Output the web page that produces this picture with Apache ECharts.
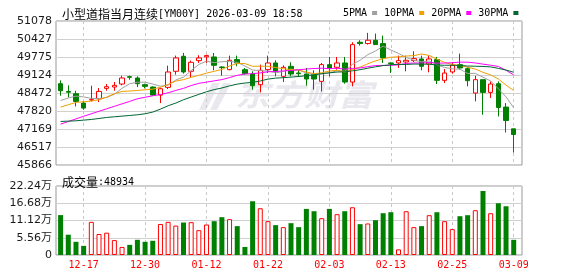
<!DOCTYPE html>
<html><head><meta charset="utf-8">
<script src="https://cdn.jsdelivr.net/npm/echarts@6/dist/echarts.min.js"></script>
<style>html,body{margin:0;padding:0;background:#fff}#c{width:578px;height:276px}</style>
</head><body><div id="c"></div>
<script>
const titleName = '小型道指当月连续';
const titleCode = '[YM00Y] 2026-03-09 18:58';
const volTitle = '成交量';
const lastVolume = 48934;
const dates = ['12-12','12-15','12-16','12-17','12-18','12-19','12-22','12-23','12-24','12-26',
  '12-29','12-30','12-31','01-02','01-05','01-06','01-07','01-08','01-09','01-12',
  '01-13','01-14','01-15','01-16','01-19','01-20','01-21','01-22','01-23','01-26',
  '01-27','01-28','01-29','01-30','02-02','02-03','02-04','02-05','02-06','02-09',
  '02-10','02-11','02-12','02-13','02-16','02-17','02-18','02-19','02-20','02-23',
  '02-24','02-25','02-26','02-27','03-02','03-03','03-04','03-05','03-06','03-09'];
const tickDates = ['12-17','12-30','01-12','01-22','02-03','02-13','02-25','03-09'];
const openP = [48809,48530,48446,48107,48220,48264,48640,48688,48797,49063,
  49015,48773,48688,48397,48676,49257,49801,49257,49644,49780,
  49777,49414,49317,49680,49317,49160,48773,49317,49559,49075,
  49438,49196,49160,49136,48894,49498,49402,49559,48869,50309,
  50261,50382,50261,49559,49559,49595,49644,49704,49523,49680,
  48930,49233,49498,49353,48470,48954,48494,48809,47962,47175];
const closeP = [48555,48500,48167,47926,48228,48530,48700,48748,49015,49040,
  48809,48712,48397,48627,49233,49741,49233,49583,49741,49826,
  49474,49390,49656,49559,49172,48736,49293,49559,49257,49402,
  49160,49172,48978,48978,49499,49378,49559,48869,50225,50261,
  50382,50225,49741,49535,49644,49656,49716,49438,49704,48930,
  49196,49474,49378,48918,48954,48494,48797,47950,47478,46970];
const lowP = [48373,48313,47986,47865,48168,48143,48555,48555,48748,48954,
  48688,48640,48373,48107,48615,49136,49172,49051,49559,49559,
  49293,49099,49293,49438,49136,48591,48494,49196,49075,48869,
  49075,49051,48736,48591,48531,49075,49317,48809,48712,50188,
  50225,50225,49559,49196,49378,49257,49595,49293,49220,48797,
  48833,49172,49317,48712,48167,47684,48289,47623,47042,46316];
const highP = [48930,48748,48555,48168,48736,48651,48797,48870,49099,49099,
  49075,48809,48712,48664,49462,49826,49922,49644,49838,49862,
  49922,49438,49825,49825,49378,49257,49498,49825,49656,49474,
  49583,49317,49378,49293,49559,49777,49777,49777,50309,50382,
  50648,50624,50551,49583,49825,49825,49982,49825,49825,49777,
  49341,49583,49898,49402,49099,48954,48894,48894,48107,47175];
const volume = [128600,65400,42500,29400,106800,67600,72000,48000,26000,32700,
  49000,42500,45800,100000,106800,94800,104600,105800,80000,98300,
  109000,121900,115500,93000,25700,173200,150700,109000,96200,89800,
  102600,89800,148600,141100,118700,148600,131500,141100,153900,99400,
  101600,112200,134700,137900,18200,141100,89800,93000,128300,137900,
  109000,83400,125000,128300,144300,206300,134700,166800,157100,48934];
const ma5 = [48200,48290,48360,48330,48275,48270,48310,48426,48644,48807,
  48862,48865,48795,48717,48756,48942,49046,49283,49506,49625,
  49571,49603,49617,49581,49450,49303,49283,49264,49203,49249,
  49334,49310,49194,49138,49157,49201,49278,49257,49506,49658,
  49859,49992,50167,50029,49905,49760,49658,49598,49632,49489,
  49397,49348,49336,49179,49184,49044,48908,48623,48335,47938];
const ma10 = [47962,48047,48131,48155,48180,48228,48325,48446,48530,48541,
  48566,48588,48611,48681,48782,48902,48956,49039,49112,49191,
  49257,49325,49450,49544,49538,49437,49443,49441,49392,49350,
  49319,49297,49229,49171,49203,49268,49294,49226,49322,49408,
  49530,49635,49712,49768,49782,49810,49825,49883,49831,49697,
  49579,49503,49467,49406,49337,49221,49128,48980,48757,48561];
const ma20 = [47345,47440,47535,47630,47720,47810,47900,47990,48080,48170,
  48264,48318,48371,48418,48481,48565,48640,48742,48821,48866,
  48912,48957,49031,49113,49160,49170,49200,49240,49252,49271,
  49288,49311,49340,49358,49371,49353,49369,49334,49357,49379,
  49425,49466,49471,49470,49493,49539,49560,49555,49577,49553,
  49555,49569,49590,49587,49560,49516,49477,49432,49294,49129];
const ma30 = [47442,47454,47466,47490,47514,47550,47587,47611,47635,47659,
  47684,47720,47781,47889,48010,48107,48228,48325,48422,48518,
  48595,48653,48731,48793,48833,48856,48908,48975,49011,49027,
  49047,49070,49097,49132,49174,49202,49231,49235,49275,49316,
  49369,49419,49464,49494,49508,49505,49521,49517,49515,49485,
  49476,49478,49469,49448,49441,49433,49416,49363,49303,49222];
const maNames = ['5PMA','10PMA','20PMA','30PMA'];
const priceTicks = [45866,46517,47169,47820,48472,49124,49775,50427,51078];
const volTicks = [0,55600,111200,166800,222400];
const volTickLabels = ['0','5.56万','11.12万','16.68万','22.24万'];

const RED = '#ff0000', GREEN = '#008000';
const tickIdx = tickDates.map(d => dates.indexOf(d));
const isUp = i => closeP[i] > openP[i] || (closeP[i] === openP[i] && (i === 0 || closeP[i] >= closeP[i-1]));
const candleData = dates.map((d, i) => [i, openP[i], closeP[i], lowP[i], highP[i]]);
const volData = dates.map((d, i) => ({
  value: [i, volume[i]],
  itemStyle: isUp(i) ? {color: '#fff', borderColor: RED, borderWidth: 1} : {color: GREEN, borderColor: GREEN, borderWidth: 0}
}));
const maColors = ['#a0a0a0', '#f0a000', '#ff00ff', '#006633'];
const maData = [ma5, ma10, ma20, ma30];
const mono = '"DejaVu Sans Mono", monospace';
const cjk = '"Noto Sans CJK SC", sans-serif';

const xBase = (gi) => ({
  type: 'value', gridIndex: gi, min: -0.6, max: 60.08,
  axisLine: {show: false},
  axisTick: {show: false, customValues: tickIdx},
  splitLine: {show: true, lineStyle: {color: '#c8c8c8', type: [3, 3], width: 1}},
  axisLabel: {show: false}
});
const x1 = xBase(1);
x1.axisLabel = {show: true, customValues: tickIdx, formatter: v => dates[Math.round(v)],
  color: RED, fontSize: 10, fontFamily: mono, margin: 5};

const chart = echarts.init(document.getElementById('c'), null, {renderer: 'canvas'});
chart.setOption({
  animation: false,
  backgroundColor: '#fff',
  title: [
    {text: '{a|' + titleName + '}{b|' + titleCode + '}', left: 57, top: 3,
      textStyle: {fontWeight: 'normal', rich: {a: {fontSize: 12, fontWeight: 'normal', fontFamily: cjk, color: '#000'}, b: {fontSize: 10, fontWeight: 'normal', fontFamily: mono, color: '#000'}}}},
    {text: '{a|' + volTitle + '}{b|:' + lastVolume + '}', left: 57, top: 171,
      textStyle: {fontWeight: 'normal', rich: {a: {fontSize: 12, fontWeight: 'normal', fontFamily: cjk, color: '#000'}, b: {fontSize: 10, fontWeight: 'normal', fontFamily: mono, color: '#000'}}}}
  ],
  legend: {
    left: 338, top: 3, itemWidth: 5, itemHeight: 4, itemGap: 7, align: 'right', icon: 'rect',
    selectedMode: false, data: maNames,
    textStyle: {fontSize: 10, fontFamily: mono, color: '#000', padding: 0}
  },
  graphic: [
    {type: 'text', left: 235, top: 80, z: -10, scaleX: 1.15,
      style: {text: '东方财富', font: 'bold italic 30px "Noto Sans CJK SC"', fill: '#e8e8ee'}},
    {type: 'polygon', z: -10, shape: {points: [[212,83],[220,83],[206,110],[199,110]]}, style: {fill: '#e8e8ee'}},
    {type: 'polygon', z: -10, shape: {points: [[223,83],[231,83],[217,110],[210,110]]}, style: {fill: '#e8e8ee'}}
  ],
  grid: [
    {left: 56, right: 56, top: 21, height: 144, show: true, borderColor: '#999', borderWidth: 1, backgroundColor: 'transparent'},
    {left: 56, right: 56, top: 186, height: 69, show: true, borderColor: '#999', borderWidth: 1, backgroundColor: 'transparent'}
  ],
  xAxis: [xBase(0), x1],
  yAxis: [
    {type: 'value', gridIndex: 0, min: 45866, max: 51078,
      axisLine: {show: false}, axisTick: {show: false, customValues: priceTicks},
      axisLabel: {customValues: priceTicks, formatter: v => String(Math.round(v)), color: '#1a1a1a', fontSize: 11, fontFamily: '"DejaVu Sans", sans-serif', margin: 4},
      splitLine: {show: true, lineStyle: {color: '#d0d0d0', width: 1}}},
    {type: 'value', gridIndex: 1, min: 0, max: 222400,
      axisLine: {show: false}, axisTick: {show: false, customValues: volTicks},
      axisLabel: {customValues: volTicks, formatter: v => volTickLabels[volTicks.indexOf(v)],
        color: '#1a1a1a', fontSize: 11, fontFamily: '"DejaVu Sans", "Noto Sans CJK SC", sans-serif', margin: 4},
      splitLine: {show: true, lineStyle: {color: '#d0d0d0', width: 1}}}
  ],
  series: [
    {type: 'candlestick', xAxisIndex: 0, yAxisIndex: 0, data: candleData,
      encode: {x: 0, y: [1, 2, 3, 4]}, barWidth: 5, z: 2,
      itemStyle: {color: '#fff', color0: GREEN, borderColor: RED, borderColor0: GREEN, borderWidth: 1}},
    ...maData.map((arr, k) => ({
      type: 'line', name: maNames[k], xAxisIndex: 0, yAxisIndex: 0, z: 3,
      data: arr.map((v, i) => [i, v]), showSymbol: false, symbol: 'none', silent: true,
      color: maColors[k], lineStyle: {width: 1, color: maColors[k]}
    })),
    {type: 'bar', xAxisIndex: 1, yAxisIndex: 1, data: volData, barWidth: 5, z: 2}
  ]
});
</script></body></html>
